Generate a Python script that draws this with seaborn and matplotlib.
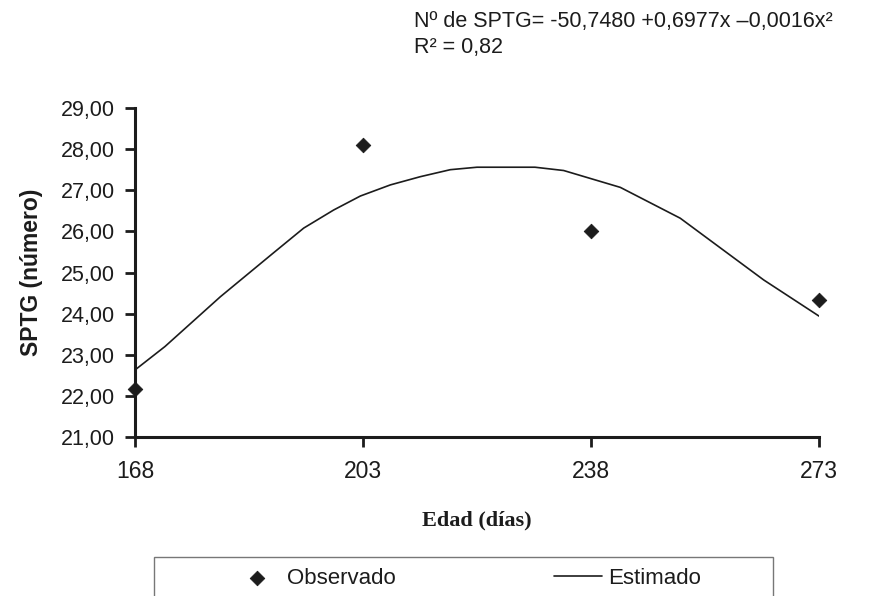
import matplotlib
matplotlib.use("Agg")
import matplotlib.pyplot as plt
import seaborn as sns
import pandas as pd
from matplotlib.ticker import FuncFormatter
from matplotlib.patches import Rectangle

# Observed data
obs_days = [168, 203, 238, 273]
obs_sptg = [22.16, 28.10, 26.02, 24.33]

# Estimated (smoothed) curve
est_days = [168, 172.6, 181.1, 189.2, 193.9, 198.5, 202.6, 207.2, 211.8, 216.4,
            220.5, 229.4, 233.8, 242.5, 251.7, 264.5, 273]
est_sptg = [22.63, 23.20, 24.41, 25.47, 26.08, 26.52, 26.86, 27.13, 27.33, 27.50,
            27.56, 27.56, 27.48, 27.07, 26.32, 24.82, 23.94]

x_ticks = [168, 203, 238, 273]
y_ticks = [21, 22, 23, 24, 25, 26, 27, 28, 29]

sns.set_style("ticks")
plt.rcParams['font.family'] = ['Liberation Sans', 'DejaVu Sans']

W, H = 874, 596
INK = "#1c1c1c"
fig = plt.figure(figsize=(W / 100, H / 100), dpi=100)
ax = fig.add_axes([135 / W, 1 - 437 / H, (819 - 135) / W, (437 - 108) / H])

obs_df = pd.DataFrame({"x": obs_days, "y": obs_sptg})
est_df = pd.DataFrame({"x": est_days, "y": est_sptg})

sns.lineplot(data=est_df, x="x", y="y", ax=ax, color=INK, linewidth=1.2,
             sort=False, label="Estimado", legend=False)
sns.scatterplot(data=obs_df, x="x", y="y", ax=ax, marker="D", s=55, color=INK,
                edgecolor=INK, label="Observado", legend=False, zorder=5, clip_on=False)

ax.set_xlim(168, 273)
ax.set_ylim(21, 29)
ax.set_xticks(x_ticks)
ax.set_yticks(y_ticks)
ax.yaxis.set_major_formatter(FuncFormatter(lambda v, p: f"{v:.2f}".replace(".", ",")))
ax.tick_params(axis="both", length=7.5, width=2.0, color=INK, labelcolor=INK)
ax.tick_params(axis="y", labelsize=15.5, pad=7)
ax.tick_params(axis="x", labelsize=16.5, pad=9)
for s in ["top", "right"]:
    ax.spines[s].set_visible(False)
for s in ["left", "bottom"]:
    ax.spines[s].set_linewidth(2.2)
    ax.spines[s].set_color(INK)

ax.set_xlabel("Edad (días)", fontsize=16, fontweight="bold", color=INK,
              family=["Liberation Serif", "DejaVu Serif"], labelpad=20)
ax.set_ylabel("SPTG (número)", fontsize=16.5, fontweight="bold", color=INK, labelpad=13)

fig.text(414 / W, 1 - 27 / H, "Nº de SPTG= -50,7480 +0,6977x –0,0016x²",
         fontsize=15.5, ha="left", va="baseline", color=INK)
fig.text(414 / W, 1 - 53 / H, "R² = 0,82", fontsize=15.5, ha="left", va="baseline", color=INK)

handles, labels = ax.get_legend_handles_labels()
order = [labels.index("Observado"), labels.index("Estimado")]
leg = fig.legend([handles[i] for i in order], [labels[i] for i in order],
                 loc="center left", bbox_to_anchor=(233 / W, 1 - 578 / H),
                 ncol=2, frameon=False, fontsize=16, borderpad=0, borderaxespad=0,
                 handlelength=2.15, handletextpad=0.3, markerscale=1.0,
                 columnspacing=7.1)
for t in leg.get_texts():
    t.set_color(INK)

fig.add_artist(Rectangle((154 / W, -0.05), (773 - 154) / W, (596 - 557) / H + 0.05,
                         transform=fig.transFigure, fill=False, edgecolor="#777777",
                         linewidth=1.0))

fig.savefig("out.png", dpi=100)
